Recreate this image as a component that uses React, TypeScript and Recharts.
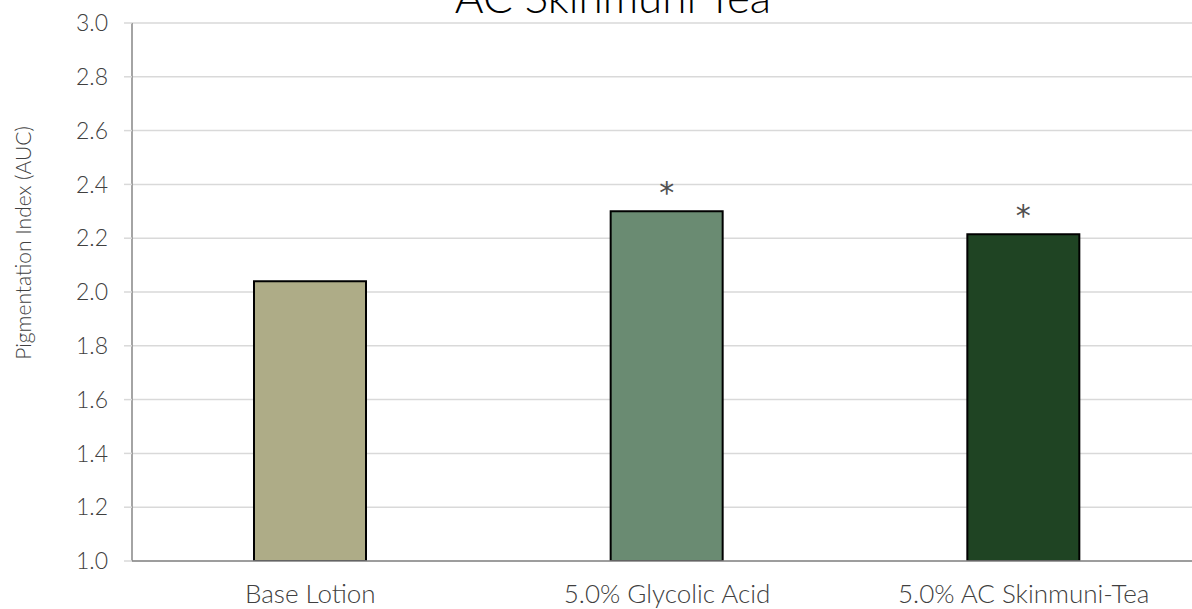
import React from 'react';
import { BarChart, Bar, XAxis, YAxis, CartesianGrid, Cell, LabelList } from 'recharts';

const categories = ['Base Lotion', '5.0% Glycolic Acid', '5.0% AC Skinmuni-Tea'];
const pigmentation = [2.04, 2.3, 2.215];
const significance = ['', '*', '*'];
const barColors = ['#AEAC87', '#6A8B72', '#1F4423'];
const yTicks = [1.0, 1.2, 1.4, 1.6, 1.8, 2.0, 2.2, 2.4, 2.6, 2.8, 3.0];

const data = categories.map((name, i) => ({
  name,
  value: pigmentation[i],
  sig: significance[i],
}));

const font = 'Lato, "Open Sans", sans-serif';
const textColor = '#404040';

function YLabel() {
  return (
    <text
      x={22}
      y={243}
      transform="rotate(-90 22 243)"
      textAnchor="middle"
      dominantBaseline="central"
      fill={textColor}
      fontFamily={font}
      fontWeight={300}
      fontSize={21}
    >
      Pigmentation Index (AUC)
    </text>
  );
}

function SigLabel(props: any) {
  const { x, y, width, value } = props;
  if (!value) return null;
  return (
    <text
      x={x + width / 2}
      y={y - 8}
      textAnchor="middle"
      fill="#505050"
      fontFamily='"DejaVu Sans", sans-serif'
      fontSize={30}
    >
      {value}
    </text>
  );
}

export default function App() {
  return (
    <div style={{ position: 'absolute', left: 0, top: 0, width: 1192, height: 609, overflow: 'hidden', background: '#fff' }}>
      <BarChart
        width={1202}
        height={609}
        data={data}
        margin={{ top: 23, right: 0, left: 0, bottom: 0 }}
        barCategoryGap={0}
      >
        <text
          x={613}
          y={13}
          textAnchor="middle"
          fill="#000"
          fontFamily={font}
          fontWeight={300}
          fontSize={44}
        >
          AC Skinmuni Tea
        </text>
        <CartesianGrid horizontal vertical={false} stroke="#d9d9d9" strokeWidth={1.5} />
        <XAxis
          dataKey="name"
          axisLine={{ stroke: '#868686', strokeWidth: 1.5 }}
          tickLine={false}
          tickSize={0}
          tickMargin={24}
          height={48}
          tick={{ fill: textColor, fontFamily: font, fontWeight: 300, fontSize: 26 }}
          interval={0}
        />
        <YAxis
          domain={[1, 3]}
          ticks={yTicks}
          tickFormatter={(v: number) => v.toFixed(1)}
          width={132}
          axisLine={{ stroke: '#868686', strokeWidth: 1.5 }}
          tickLine={{ stroke: '#d9d9d9', strokeWidth: 1.5 }}
          tickSize={8}
          tickMargin={16}
          allowDataOverflow
          tick={{ fill: textColor, fontFamily: font, fontWeight: 300, fontSize: 23 }}
          label={<YLabel />}
        />
        <Bar dataKey="value" barSize={112} stroke="#000" strokeWidth={2} isAnimationActive={false}>
          {data.map((d, i) => (
            <Cell key={d.name} fill={barColors[i]} />
          ))}
          <LabelList dataKey="sig" content={<SigLabel />} />
        </Bar>
      </BarChart>
    </div>
  );
}
